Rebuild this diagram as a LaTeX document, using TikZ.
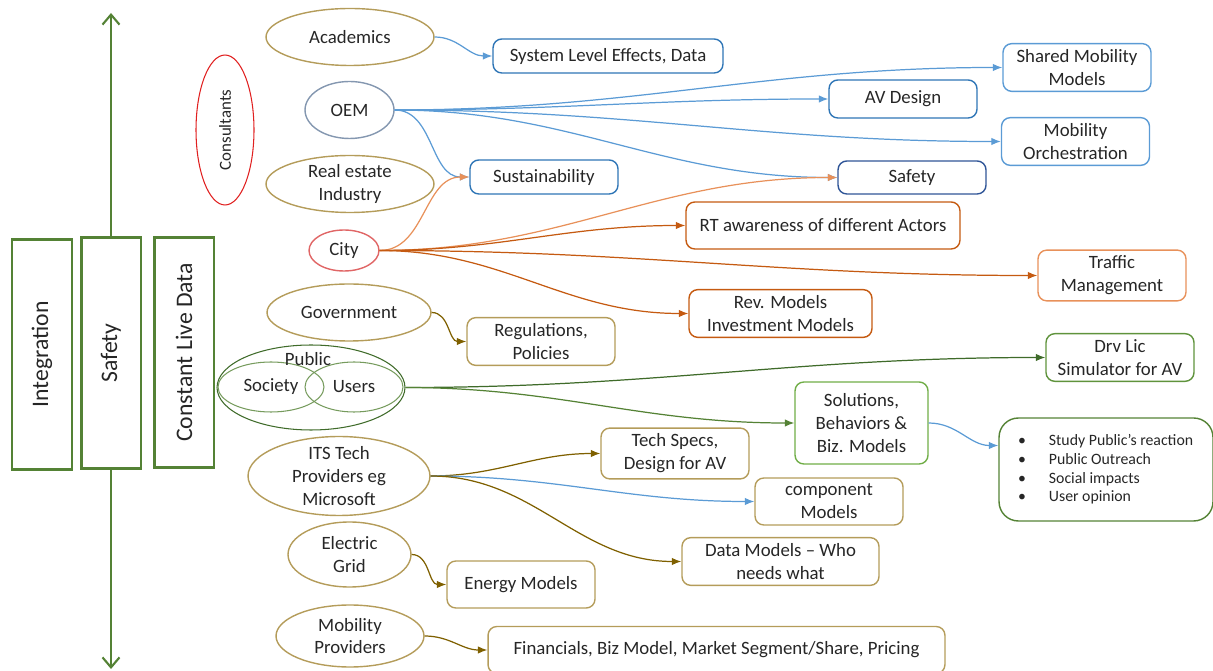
\documentclass[tikz,border=0pt]{standalone}
\usepackage{fontspec}
\setmainfont{Carlito}
\usetikzlibrary{shapes.geometric,arrows.meta}

\definecolor{barGreen}{HTML}{548235}
\definecolor{darkGreen}{HTML}{3F6B2A}
\definecolor{lightGreen}{HTML}{70AD47}
\definecolor{khaki}{HTML}{B49C5A}
\definecolor{brownLine}{HTML}{7F6000}
\definecolor{midBlue}{HTML}{2E75B6}
\definecolor{navyBlue}{HTML}{2F5597}
\definecolor{skyBlue}{HTML}{5B9BD5}
\definecolor{slate}{HTML}{8497B0}
\definecolor{rust}{HTML}{C55A11}
\definecolor{peach}{HTML}{E8915A}
\definecolor{cityRed}{HTML}{E06666}
\definecolor{consultRed}{HTML}{E02020}

\newcommand{\bodyfont}{\fontsize{10.7}{13}\selectfont}
\newcommand{\barfont}{\fontsize{13.5}{16}\selectfont}

\begin{document}
\begin{tikzpicture}[x=0.02cm, y=-0.02cm, font=\bodyfont, text=black!85,
    actor/.style={ellipse, draw=khaki, inner sep=-12pt, line width=0.8pt, align=center},
    item/.style={draw, rounded corners=5pt, align=center, line width=0.8pt,
        minimum width=2.96cm, minimum height=0.94cm},
    bar/.style={draw=barGreen, line width=1.7pt, rotate=90,
        minimum width=4.62cm, minimum height=1.2cm, font=\barfont},
    link/.style={-{Latex[length=1.9mm,width=1.5mm]}, line width=0.7pt}]
    \useasboundingbox (0,0) rectangle (1213,671);

    % Left bars and the axis
    \coordinate (axtop) at (111,13);
    \coordinate (axbot) at (111,669);
    \node[bar] (integ) at (42,354.5) {Integration};
    \node[bar] (safetybar) at (111,353) {Safety};
    \node[bar] (livedata) at (184,352.5) {Constant Live Data};
    \draw[barGreen, line width=1.2pt, -{Straight Barb[length=2mm,width=3.4mm]}] (safetybar.east) -- (axtop);
    \draw[barGreen, line width=1.2pt, -{Straight Barb[length=2mm,width=3.4mm]}] (safetybar.west) -- (axbot);

    % Actors
    \node[actor, draw=consultRed, line width=0.6pt, rotate=90, minimum width=3cm,
        minimum height=1.16cm, font=\fontsize{9.6}{11}\selectfont] (consult) at (225,130) {Consultants};
    \node[actor, minimum width=3.36cm, minimum height=1.14cm] (acad) at (350,37) {Academics};
    \node[actor, draw=slate, minimum width=1.78cm, minimum height=1.14cm] (oem) at (349.5,110) {OEM};
    \node[actor, minimum width=3.36cm, minimum height=1.14cm] (realest) at (350,184) {Real estate\\Industry};
    \node[actor, draw=cityRed, minimum width=1.4cm, minimum height=0.82cm] (city) at (344,250.5) {City};
    \node[actor, minimum width=3.28cm, minimum height=1.14cm] (govt) at (349,312.5) {Government};
    \node[actor, draw=darkGreen, line width=0.6pt, minimum width=3.76cm, minimum height=1.7cm] (public) at (311,387.5) {};
    \node[actor, draw=barGreen!80, line width=0.6pt, minimum width=2.12cm, minimum height=1cm] (society) at (271,387) {Society};
    \node[actor, draw=barGreen!80, line width=0.6pt, minimum width=1.96cm, minimum height=1cm] (users) at (354,387) {Users};
    \node (publab) at (308,359) {Public};
    \node[actor, minimum width=3.64cm, minimum height=1.58cm] (its) at (339,476) {ITS Tech\\Providers eg\\Microsoft};
    \node[actor, minimum width=2.46cm, minimum height=1.3cm] (grid) at (349.5,554.5) {Electric\\Grid};
    \node[actor, minimum width=2.96cm, minimum height=1.24cm] (mobprov) at (350,636) {Mobility\\Providers};

    % Outcomes
    \node[item, draw=midBlue, minimum width=4.6cm, minimum height=0.68cm] (sysfx) at (608,56) {System Level Effects, Data};
    \node[item, draw=skyBlue] (sharedmob) at (1077,67.5) {Shared Mobility\\Models};
    \node[item, draw=midBlue, minimum height=0.76cm] (avdesign) at (903,99) {AV Design};
    \node[item, draw=skyBlue] (moborch) at (1075.5,141.5) {Mobility\\Orchestration};
    \node[item, draw=midBlue, minimum height=0.68cm] (sustain) at (544,177) {Sustainability};
    \node[item, draw=navyBlue, minimum height=0.66cm] (safety) at (912,177.5) {Safety};
    \node[item, draw=rust, minimum width=5.48cm] (rtaware) at (823,225.5) {RT awareness of different Actors};
    \node[item, draw=peach] (traffic) at (1112,275.5) {Traffic\\Management};
    \node[item, draw=rust, minimum width=3.66cm] (revmod) at (780.5,313.5) {Rev. Models\\Investment Models};
    \node[item, draw=khaki] (regs) at (541,341.5) {Regulations,\\Policies};
    \node[item, draw=lightGreen!85!black] (drvlic) at (1120,357.5) {Drv Lic\\Simulator for AV};
    \node[item, draw=lightGreen, minimum width=2.66cm, minimum height=1.64cm] (solutions) at (861.5,423) {Solutions,\\Behaviors \&\\Biz. Models};
    \node[item, draw=barGreen, rounded corners=11pt, minimum width=4.28cm, minimum height=2.06cm] (outreach) at (1106,469.5) {};
    \node[anchor=west, font=\fontsize{9}{10.6}\selectfont] (outreach-t) at (1012,470)
        {\begin{tabular}{@{}l@{\hspace{13pt}}l@{}}
            \textbullet & Study Public’s reaction\\
            \textbullet & Public Outreach\\
            \textbullet & Social impacts\\
            \textbullet & User opinion
        \end{tabular}};
    \node[item, draw=khaki] (techspec) at (675,453.5) {Tech Specs,\\Design for AV};
    \node[item, draw=khaki] (component) at (829,501.5) {component\\Models};
    \node[item, draw=khaki, minimum width=3.94cm] (datamod) at (780.5,561.5) {Data Models -- Who\\needs what};
    \node[item, draw=khaki] (energy) at (521,584.5) {Energy Models};
    \node[item, draw=khaki, minimum width=9.14cm] (finance) at (716.5,650) {Financials, Biz Model, Market Segment/Share, Pricing};

    % Links
    \draw[link, skyBlue] (acad.east) to[out=0,in=180] (sysfx.west);
    \draw[link, skyBlue] (oem.east) to[out=0,in=180] (sharedmob.west);
    \draw[link, skyBlue] (oem.east) to[out=0,in=180] (avdesign.west);
    \draw[link, skyBlue] (oem.east) to[out=0,in=180] (moborch.west);
    \draw[link, skyBlue] (oem.east) to[out=0,in=180] (safety.west);
    \draw[link, skyBlue] (oem.east) to[out=0,in=180] (sustain.west);
    \draw[link, peach] (city.east) to[out=0,in=180] (sustain.west);
    \draw[link, peach] (city.east) to[out=0,in=180] (safety.west);
    \draw[link, rust] (city.east) to[out=0,in=180] (rtaware.west);
    \draw[link, rust] (city.east) to[out=0,in=180] (traffic.west);
    \draw[link, rust] (city.east) to[out=0,in=180] (revmod.west);
    \draw[link, brownLine] (govt.east) to[out=0,in=180] (regs.west);
    \draw[link, darkGreen] (public.east) to[out=0,in=180] (drvlic.west);
    \draw[link, barGreen] (public.east) to[out=0,in=180] (solutions.west);
    \draw[link, skyBlue] (solutions.east) to[out=0,in=180] ([yshift=0.48cm]outreach.west);
    \draw[link, brownLine] (its.east) to[out=0,in=180] (techspec.west);
    \draw[link, skyBlue] (its.east) to[out=0,in=180] (component.west);
    \draw[link, brownLine] (its.east) to[out=0,in=180] (datamod.west);
    \draw[link, brownLine] (grid.east) to[out=0,in=180] (energy.west);
    \draw[link, brownLine] (mobprov.east) to[out=0,in=180] (finance.west);
\end{tikzpicture}
\end{document}
